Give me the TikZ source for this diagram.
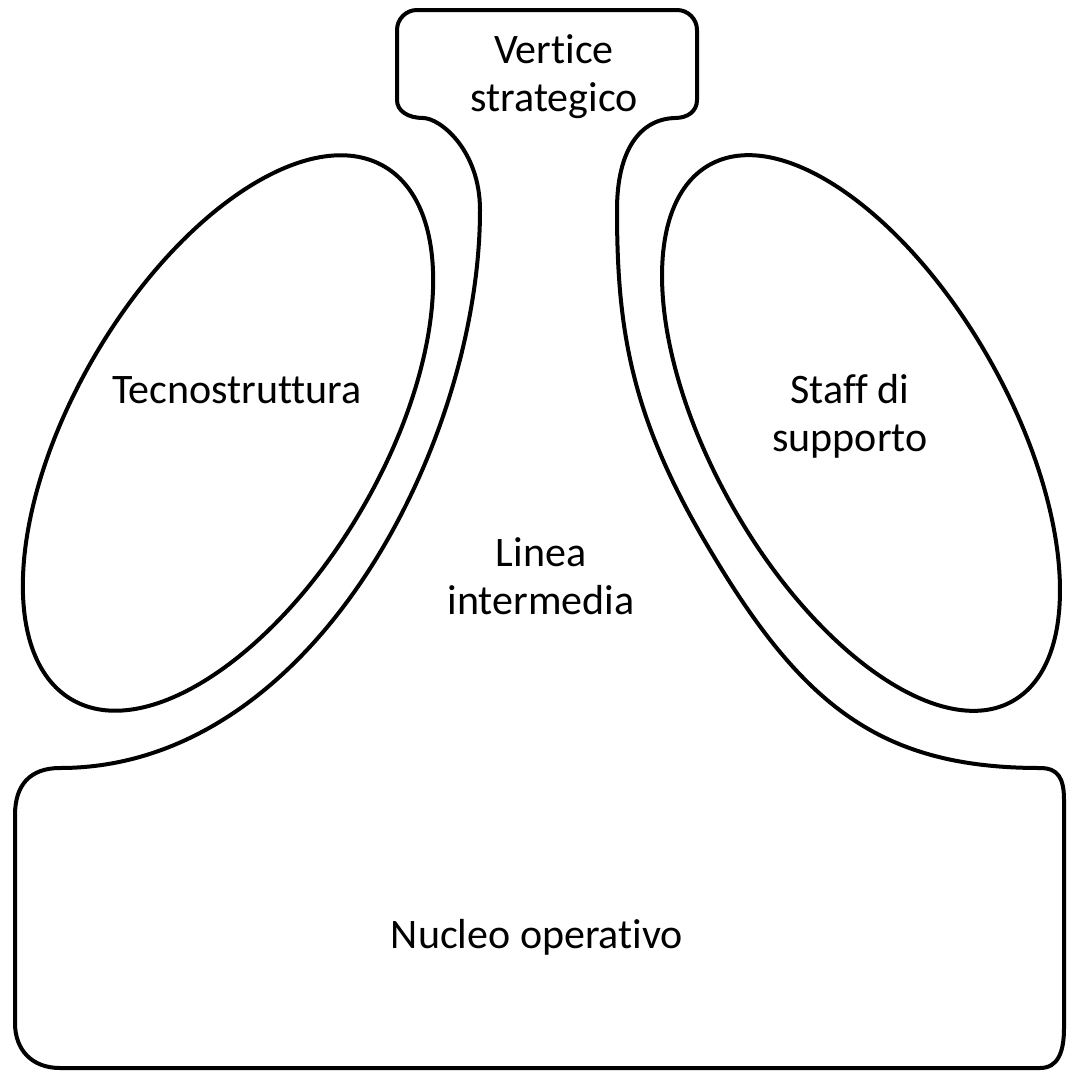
\documentclass[tikz,border=0pt]{standalone}
\usepackage{fontspec}
\setmainfont[Ligatures=NoCommon]{Carlito}
\begin{document}
\begin{tikzpicture}[x=1pt,y=-1pt, line width=4pt, line join=round,
  lbl/.style={font=\fontsize{42}{48}\selectfont, align=center, inner sep=0pt}]
\useasboundingbox[fill=white] (0,0) rectangle (1068,1071);
% Tecnostruttura and Staff di supporto
\draw[shift={(228,433)}, rotate=59.6] (0,0) ellipse [x radius=309, y radius=154];
\draw[shift={(861,433)}, rotate=-60.5] (0,0) ellipse [x radius=308, y radius=148];
% outer outline
\draw (397,100) -- (397,30) .. controls (397,19) and (406,10) .. (417,10)
  -- (677,10) .. controls (688,10) and (697,19) .. (697,30)
  -- (697,100) .. controls (697,111) and (688,118) .. (675,118)
  .. controls (640,119) and (617,150) .. (617,210)
  .. controls (617,330) and (631,418) .. (710,550)
  .. controls (802,705) and (880,768) .. (1040,768)
  .. controls (1058,768) and (1064,778) .. (1064,800)
  -- (1064,1028) .. controls (1064,1052) and (1058,1068) .. (1040,1068)
  -- (60,1068) .. controls (32,1068) and (15,1050) .. (15,1023)
  -- (15,815) .. controls (15,785) and (30,768) .. (60,768)
  .. controls (315,768) and (480,440) .. (480,210)
  .. controls (480,150) and (440,118) .. (423,118)
  .. controls (408,118) and (397,111) .. (397,100) -- cycle;
% labels
\node[lbl] (vs) at (554,77) {Vertice\\strategico};
\node[lbl, anchor=base] (tec) at (237,403) {Tecnostruttura};
\node[lbl] (staff) at (850,416) {Staff di\\supporto};
\node[lbl] (linea) at (541,576) {Linea\\intermedia};
\node[lbl, anchor=base] (nucleo) at (537,948) {Nucleo operativo};
\end{tikzpicture}
\end{document}
